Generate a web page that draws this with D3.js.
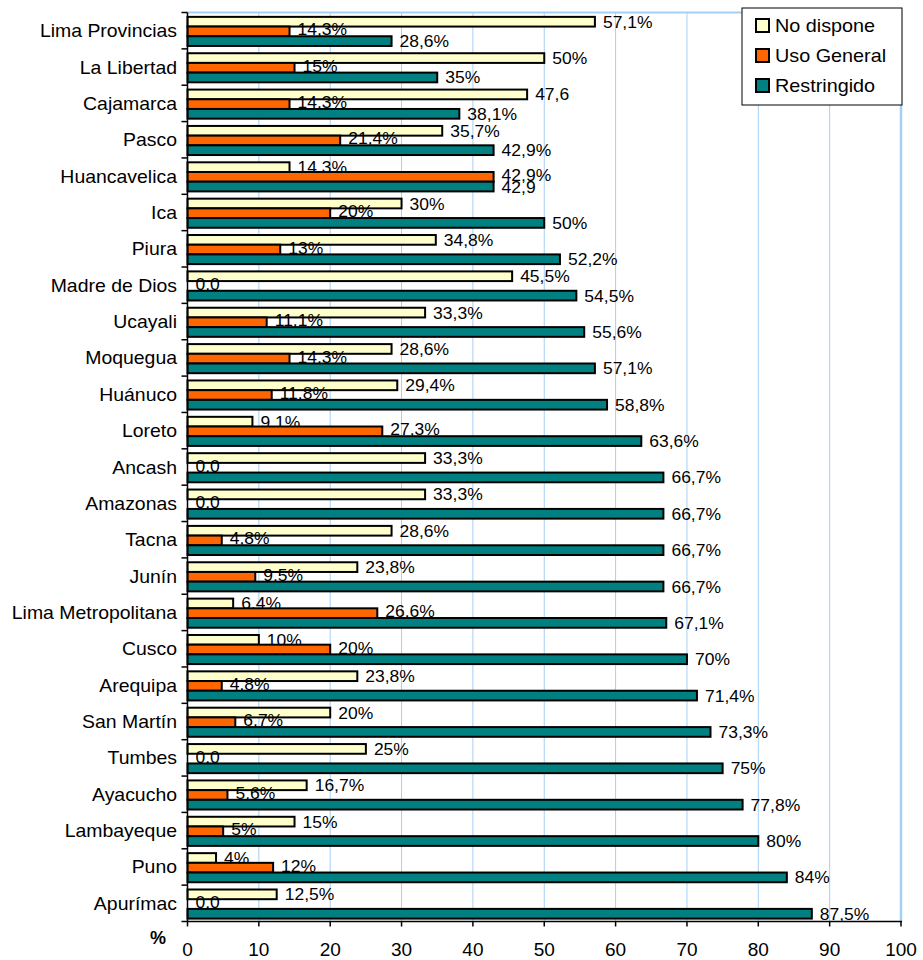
<!DOCTYPE html>
<html>
<head>
<meta charset="utf-8">
<script src="https://cdn.jsdelivr.net/npm/d3@7"></script>
<style>
  html, body { margin: 0; padding: 0; background: #fff; }
  svg { display: block; font-family: "Liberation Sans", Arial, sans-serif; }
</style>
</head>
<body>
<svg id="chart" width="923" height="960"></svg>
<script>
// Regions, listed top to bottom
const regions = [
  "Lima Provincias", "La Libertad", "Cajamarca", "Pasco", "Huancavelica",
  "Ica", "Piura", "Madre de Dios", "Ucayali", "Moquegua", "Huánuco",
  "Loreto", "Ancash", "Amazonas", "Tacna", "Junín", "Lima Metropolitana",
  "Cusco", "Arequipa", "San Martín", "Tumbes", "Ayacucho", "Lambayeque",
  "Puno", "Apurímac"
];

const seriesNames = ["No dispone", "Uso General", "Restringido"];

const noDispone = [57.1, 50, 47.6, 35.7, 14.3, 30, 34.8, 45.5, 33.3, 28.6, 29.4,
  9.1, 33.3, 33.3, 28.6, 23.8, 6.4, 10, 23.8, 20, 25, 16.7, 15, 4, 12.5];
const usoGeneral = [14.3, 15, 14.3, 21.4, 42.9, 20, 13, 0, 11.1, 14.3, 11.8,
  27.3, 0, 0, 4.8, 9.5, 26.6, 20, 4.8, 6.7, 0, 5.6, 5, 12, 0];
const restringido = [28.6, 35, 38.1, 42.9, 42.9, 50, 52.2, 54.5, 55.6, 57.1, 58.8,
  63.6, 66.7, 66.7, 66.7, 66.7, 67.1, 70, 71.4, 73.3, 75, 77.8, 80, 84, 87.5];

// Labels that are printed without the percent sign
const plainLabels = [["Cajamarca", "No dispone"], ["Huancavelica", "Restringido"]];

const xTicks = [0, 10, 20, 30, 40, 50, 60, 70, 80, 90, 100];

const colors = { "No dispone": "#FFFFCC", "Uso General": "#FF6600", "Restringido": "#008080" };
const seriesValues = { "No dispone": noDispone, "Uso General": usoGeneral, "Restringido": restringido };

const svg = d3.select("#chart");

const plot = { left: 187.5, right: 901, top: 12.5, bottom: 921.5 };

const x = d3.scaleLinear().domain([0, 100]).range([plot.left, plot.right]);
const y = d3.scaleBand().domain(regions).range([plot.top, plot.bottom])
  .paddingInner(0.2).paddingOuter(0.1).align(0.6);
const ySub = d3.scaleBand().domain(seriesNames).range([0, y.bandwidth()]);

function fmt(v, region, series) {
  if (v === 0) return "0,0";
  const s = String(v).replace(".", ",");
  const plain = plainLabels.some(p => p[0] === region && p[1] === series);
  return plain ? s : s + "%";
}

// Text drawn slightly widened horizontally
function wideText(g, tx, ty, str, size, sx, anchor, weight) {
  return g.append("text")
    .attr("transform", `translate(${tx},${ty}) scale(${sx},1)`)
    .attr("text-anchor", anchor || "start")
    .attr("font-size", size)
    .attr("font-weight", weight || "normal")
    .attr("fill", "#000")
    .text(str);
}

// Gridlines
svg.append("g").selectAll("line")
  .data(xTicks.filter(t => t > 0 && t < 100))
  .join("line")
  .attr("x1", d => x(d)).attr("x2", d => x(d))
  .attr("y1", plot.top).attr("y2", plot.bottom)
  .attr("stroke", "#A6CFF5").attr("stroke-width", 1);

// Plot frame (top and right)
svg.append("line").attr("x1", plot.left).attr("x2", plot.right)
  .attr("y1", plot.top).attr("y2", plot.top)
  .attr("stroke", "#A6CFF5").attr("stroke-width", 2);
svg.append("line").attr("x1", plot.right).attr("x2", plot.right)
  .attr("y1", plot.top).attr("y2", plot.bottom)
  .attr("stroke", "#A6CFF5").attr("stroke-width", 2.5);

// Bars and value labels, series by series
seriesNames.forEach((name, si) => {
  const vals = seriesValues[name];
  const g = svg.append("g");
  g.selectAll("rect")
    .data(regions.map((r, i) => ({ r, v: vals[i] })))
    .join("rect")
    .attr("x", x(0))
    .attr("y", d => y(d.r) + ySub(name))
    .attr("width", d => x(d.v) - x(0))
    .attr("height", ySub.bandwidth())
    .attr("fill", colors[name])
    .attr("stroke", "#000")
    .attr("stroke-width", 2);
  const lg = svg.append("g");
  const lift = name === "Uso General" ? -2 : 0;
  regions.forEach((r, i) => {
    const v = vals[i];
    const cy = y(r) + ySub(name) + ySub.bandwidth() / 2;
    wideText(lg, x(v) + 8, cy + 6 + lift, fmt(v, r, name), 16.5, 1.06, "start");
  });
});

// Axes
const axisG = svg.append("g");
axisG.append("line").attr("x1", plot.left).attr("x2", plot.left)
  .attr("y1", plot.top).attr("y2", plot.bottom + 0.5)
  .attr("stroke", "#000").attr("stroke-width", 1.5);
axisG.append("line").attr("x1", plot.left).attr("x2", plot.right + 1)
  .attr("y1", plot.bottom).attr("y2", plot.bottom)
  .attr("stroke", "#000").attr("stroke-width", 1.5);

// x ticks and labels
axisG.selectAll(".xt").data(xTicks).join("line")
  .attr("x1", d => x(d)).attr("x2", d => x(d))
  .attr("y1", plot.bottom).attr("y2", plot.bottom + 5)
  .attr("stroke", "#000").attr("stroke-width", 1.5);
xTicks.forEach(t => wideText(axisG, x(t), 956, String(t), 19, 1.0, "middle"));
wideText(axisG, 158, 944, "%", 18, 1.0, "middle", "bold");

// y ticks at category boundaries
const yBounds = [plot.top].concat(regions.map((r, i) => plot.top + (i + 1) * y.step()));
axisG.selectAll(".yt").data(yBounds).join("line")
  .attr("x1", plot.left - 6).attr("x2", plot.left)
  .attr("y1", d => d).attr("y2", d => d)
  .attr("stroke", "#000").attr("stroke-width", 1.5);

// Category labels
regions.forEach((r, i) => {
  const cy = plot.top + (i + 0.5) * y.step();
  wideText(axisG, 177, cy + 6.5, r, 18, 1.08, "end");
});

// Legend
const leg = svg.append("g");
leg.append("rect").attr("x", 742).attr("y", 8).attr("width", 160).attr("height", 97)
  .attr("fill", "#fff").attr("stroke", "#000").attr("stroke-width", 1);
seriesNames.forEach((name, i) => {
  const cy = 25.5 + i * 30;
  leg.append("rect").attr("x", 756).attr("y", cy - 6.5).attr("width", 13).attr("height", 13)
    .attr("fill", colors[name]).attr("stroke", "#000").attr("stroke-width", 2);
  wideText(leg, 775, cy + 6.5, name, 18, 1.1, "start");
});
</script>
</body>
</html>
